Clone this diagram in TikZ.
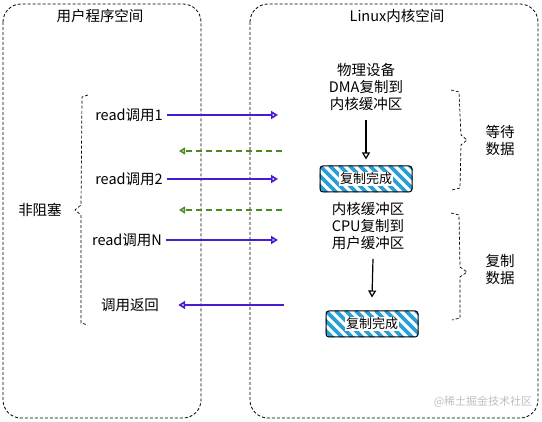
\documentclass[tikz,border=0pt]{standalone}
\usepackage{fontspec}
\setmainfont{Noto Sans CJK SC}
\usetikzlibrary{arrows.meta,backgrounds}
\definecolor{callpurple}{HTML}{4A1CCF}
\definecolor{retgreen}{HTML}{4A8A1E}
\definecolor{hatchblue}{HTML}{2A9FD6}
\tikzset{
  spacebox/.style={draw, dashed, line width=0.8pt, rounded corners=18pt, dash pattern=on 3pt off 2pt},
  brace/.style={draw, dashed, line width=0.7pt, dash pattern=on 3pt off 2pt},
  lbl/.style={font=\fontsize{14.5}{17}\selectfont, inner sep=1pt, align=center},
  callarrow/.style={draw=callpurple, line width=1.7pt, -{Triangle[open,length=7pt,width=8pt]}},
  retarrow/.style={draw=retgreen, line width=1.4pt, dash pattern=on 6pt off 4pt, -{Triangle[open,length=6pt,width=7pt]}},
  downarrow/.style={draw, line width=1.2pt, -{Triangle[open,length=7pt,width=8pt]}},
  boxframe/.style={draw, line width=1pt, rounded corners=3pt, minimum width=92pt, minimum height=26pt, inner sep=0pt},
  donelabel/.style={font=\fontsize{13}{15}\selectfont, fill=white, inner sep=1pt},
  hatchline/.style={draw=hatchblue, line width=3.6pt}
}
\begin{document}
\begin{tikzpicture}[x=1pt,y=-1pt]
\useasboundingbox (0,0) rectangle (542,422);
% space boxes
\draw[spacebox] (3,4) rectangle (201,418);
\draw[spacebox] (250,4) rectangle (538,418);
\node[lbl] (userT) at (100,16) {用户程序空间};
\node[lbl] (kernT) at (397,16) {Linux内核空间};

% left brace
\draw[brace] (88,95) -- (82,97) -- (81,205) -- (75,210) -- (81,215) -- (81,323) -- (88,325);
\node[lbl] (nb) at (40,210) {非阻塞};

% calls
\node[lbl] (r1) at (129,115) {read调用1};
\node[lbl] (r2) at (129,179) {read调用2};
\node[lbl] (rn) at (127,240) {read调用N};
\node[lbl] (ret) at (130,305) {调用返回};

\coordinate (k1) at (278,115);
\coordinate (k2) at (278,179);
\coordinate (kn) at (278,240);
\coordinate (g1s) at (282,151);
\coordinate (g1e) at (179,151);
\coordinate (g2s) at (282,210);
\coordinate (g2e) at (179,210);
\coordinate (krs) at (284,305);

\draw[callarrow] (r1.east) ++(3,0) -- (k1);
\draw[callarrow] (r2.east) ++(3,0) -- (k2);
\draw[callarrow] (rn.east) ++(3,0) -- (kn);
\draw[retarrow] (g1s) -- (g1e);
\draw[retarrow] (g2s) -- (g2e);
\draw[callarrow] (krs) -- ([xshift=18pt]ret.east);

% kernel side
\node[lbl] (dma) at (366,87) {物理设备\\DMA复制到\\内核缓冲区};
\node[boxframe] (b1) at (366,179) {};
\node[lbl] (cpu) at (368,226) {内核缓冲区\\CPU复制到\\用户缓冲区};
\node[boxframe] (b2) at (372,324) {};

\begin{scope}[on background layer]
  \begin{scope}
    \clip[rounded corners=3pt] (b1.south west) rectangle (b1.north east);
    \foreach \i in {-40,-30,...,110} {
      \draw[hatchline] ([xshift=\i pt]b1.north west) -- ++(34,34);
    }
  \end{scope}
  \begin{scope}
    \clip[rounded corners=3pt] (b2.south west) rectangle (b2.north east);
    \foreach \j in {-40,-30,...,110} {
      \draw[hatchline] ([xshift=\j pt]b2.north west) -- ++(34,34);
    }
  \end{scope}
\end{scope}
\node[donelabel] (d1) at (b1) {复制完成};
\node[donelabel] (d2) at (b2) {复制完成};

\draw[downarrow] (dma.south) ++(0,8) -- ([yshift=6pt]b1.north);
\draw[downarrow] ([xshift=5pt]cpu.south) ++(0,8) -- ([yshift=13pt]b2.north);

% right braces
\draw[brace] (451,90) -- (459,92) -- (461,135) -- (467,140) -- (461,145) -- (460,188) -- (452,190);
\node[lbl] (wait) at (500,140) {等待\\数据};
\draw[brace] (451,213) -- (459,215) -- (460,267) -- (467,272) -- (460,277) -- (460,318) -- (452,320);
\node[lbl] (copy) at (500,270) {复制\\数据};

% watermark
\node[font=\fontsize{11}{13}\selectfont, text=black!25, inner sep=0pt] (wm) at (483,402) {@稀土掘金技术社区};
\end{tikzpicture}
\end{document}
